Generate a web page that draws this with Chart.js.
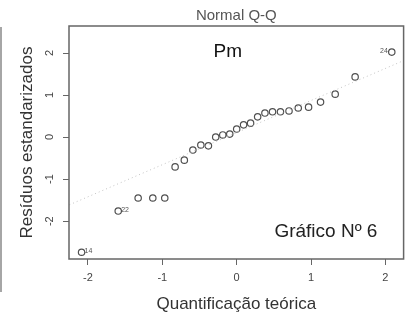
<!DOCTYPE html>
<html>
<head>
<meta charset="utf-8">
<script src="https://cdn.jsdelivr.net/npm/chart.js@4"></script>
<style>
  html, body { margin: 0; padding: 0; background: #fff; }
  #wrap { width: 408px; height: 320px; }
</style>
</head>
<body>
<div id="wrap"><canvas id="qqChart"></canvas></div>
<script>
// theoretical normal quantiles (n = 27) and standardized residuals
const theoretical = [-2.086, -1.593, -1.325, -1.128, -0.967, -0.828, -0.704, -0.589, -0.482,
  -0.380, -0.282, -0.187, -0.093, 0, 0.093, 0.187, 0.282, 0.380, 0.482, 0.589, 0.704,
  0.828, 0.967, 1.128, 1.325, 1.593, 2.086];
const residuals = [-2.74, -1.76, -1.45, -1.45, -1.45, -0.71, -0.55, -0.31, -0.19,
  -0.21, 0.0, 0.05, 0.07, 0.19, 0.29, 0.33, 0.48, 0.57, 0.60, 0.60, 0.62,
  0.69, 0.71, 0.83, 1.02, 1.43, 2.02];
// qqline end points
const refLineX = [-2.3, 2.3];
const refLineY = [-1.65, 1.86];
// labelled observations (index in sorted order -> observation number)
const labelIndex = [0, 1, 26];
const labelText = ["14", "22", "24"];
const xTicks = [-2, -1, 0, 1, 2];
const yTicks = [-2, -1, 0, 1, 2];

const FONT = "'Liberation Sans', Arial, sans-serif";

const decorations = {
    id: "decorations",
    afterDraw(chart) {
        const { ctx, chartArea: a, scales: { x, y } } = chart;
        ctx.save();
        // plot box
        ctx.strokeStyle = "#666";
        ctx.lineWidth = 1.5;
        ctx.strokeRect(a.left, a.top, a.right - a.left, a.bottom - a.top);
        // y tick marks
        ctx.lineWidth = 1;
        yTicks.forEach(v => {
            const py = Math.round(y.getPixelForValue(v)) + 0.5;
            ctx.beginPath();
            ctx.moveTo(a.left - 6, py);
            ctx.lineTo(a.left, py);
            ctx.stroke();
        });
        // left edge line of the original image
        ctx.strokeStyle = "#888";
        ctx.lineWidth = 1.5;
        ctx.beginPath();
        ctx.moveTo(1, 27);
        ctx.lineTo(1, 292);
        ctx.stroke();
        // rotated y tick labels
        ctx.fillStyle = "#444";
        ctx.font = "11px " + FONT;
        ctx.textAlign = "center";
        ctx.textBaseline = "middle";
        yTicks.forEach(v => {
            ctx.save();
            ctx.translate(a.left - 19, y.getPixelForValue(v));
            ctx.rotate(-Math.PI / 2);
            ctx.fillText(String(v), 0, 0);
            ctx.restore();
        });
        // point labels
        const pts = chart.getDatasetMeta(1).data;
        ctx.font = "7px " + FONT;
        ctx.fillStyle = "#555";
        labelIndex.forEach((idx, i) => {
            const p = pts[idx];
            if (idx === pts.length - 1) {
                ctx.textAlign = "right";
                ctx.fillText(labelText[i], p.x - 4, p.y - 1);
            } else {
                ctx.textAlign = "left";
                ctx.fillText(labelText[i], p.x + 3, p.y - 1);
            }
        });
        // annotations
        ctx.textAlign = "center";
        ctx.fillStyle = "#111";
        ctx.font = "19px " + FONT;
        ctx.fillText("Pm", x.getPixelForValue(-0.12), y.getPixelForValue(2.02));
        ctx.fillStyle = "#222";
        ctx.fillText("Gráfico Nº 6", x.getPixelForValue(1.2), y.getPixelForValue(-2.26));
        ctx.restore();
    }
};

new Chart(document.getElementById("qqChart"), {
    type: "scatter",
    data: {
        datasets: [{
            type: "line",
            data: refLineX.map((v, i) => ({ x: v, y: refLineY[i] })),
            borderColor: "#c4c4c4",
            borderWidth: 1,
            borderDash: [1, 3],
            pointRadius: 0,
            fill: false
        }, {
            data: theoretical.map((v, i) => ({ x: v, y: residuals[i] })),
            pointRadius: 3.2,
            pointBorderWidth: 1.2,
            pointBorderColor: "#505050",
            pointBackgroundColor: "rgba(0,0,0,0)",
            pointHoverRadius: 3.2
        }]
    },
    options: {
        responsive: true,
        maintainAspectRatio: false,
        animation: false,
        layout: { padding: { left: 0, right: 4, top: 0, bottom: 0 } },
        plugins: {
            legend: { display: false },
            tooltip: { enabled: false },
            title: {
                display: true,
                text: "Normal Q-Q",
                fullSize: false,
                color: "#555",
                font: { family: FONT, size: 15, weight: "normal" },
                padding: { top: 6.5, bottom: 1.5 }
            }
        },
        scales: {
            x: {
                type: "linear",
                min: -2.255,
                max: 2.245,
                afterBuildTicks: s => { s.ticks = xTicks.map(v => ({ value: v })); },
                afterFit: s => { s.height = 61; },
                grid: { drawOnChartArea: false, tickLength: 6, color: "#666" },
                border: { display: false },
                ticks: { color: "#444", font: { family: FONT, size: 11 }, padding: 6 },
                title: {
                    display: true,
                    text: "Quantificação teórica",
                    color: "#333",
                    font: { family: FONT, size: 17 },
                    padding: { top: 0, bottom: 5 }
                }
            },
            y: {
                type: "linear",
                min: -2.9,
                max: 2.64,
                afterBuildTicks: s => { s.ticks = yTicks.map(v => ({ value: v })); },
                afterFit: s => { s.width = 69; },
                grid: { display: false },
                border: { display: false },
                ticks: { display: false },
                title: {
                    display: true,
                    text: "Resíduos estandarizados",
                    color: "#333",
                    font: { family: FONT, size: 17 },
                    padding: { top: 17, bottom: 0 }
                }
            }
        }
    },
    plugins: [decorations]
});
</script>
</body>
</html>
